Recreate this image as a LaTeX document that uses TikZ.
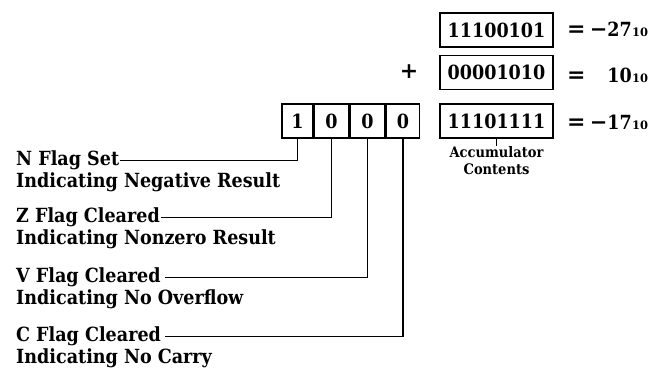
\documentclass[tikz,border=0pt]{standalone}
\usepackage{fontspec}
\setmainfont{DejaVu Serif Condensed}
\newfontfamily\symfont{DejaVu Serif}
\newcommand{\tensub}{\symfont\bfseries\fontsize{11.5}{12}\selectfont 10}
\newcommand{\eqsign}{\symfont\bfseries\fontsize{22}{22}\selectfont =}
\newcommand{\negnum}[1]{{\symfont\bfseries\fontsize{21}{22}\selectfont −}#1}
\newcommand{\plussign}{\symfont\bfseries\fontsize{22}{22}\selectfont +}
\begin{document}
\begin{tikzpicture}[x=1pt,y=-1pt,
  lbl/.style={anchor=base west,inner sep=0pt,font=\bfseries\fontsize{19.5}{21}\selectfont},
  cell/.style={draw,line width=1.5pt,minimum height=34pt,inner sep=0pt,font=\bfseries\fontsize{19.5}{21}\selectfont},
  reg/.style={draw,line width=1.5pt,minimum width=113pt,minimum height=34pt,inner sep=0pt,font=\bfseries\fontsize{19.5}{21}\selectfont},
  eqt/.style={anchor=base west,inner sep=0pt},
  val/.style={anchor=base east,inner sep=0pt,font=\bfseries\fontsize{19.5}{21}\selectfont},
  sub/.style={anchor=base west,inner sep=0pt},
  conn/.style={line width=1.4pt}]
\useasboundingbox (0,0) rectangle (654,371);
% flag cells
\node[cell,minimum width=31pt] (f1) at (297.5,121) {1};
\node[cell,minimum width=34pt,anchor=west] (f2) at (f1.east) {0};
\node[cell,minimum width=35pt,anchor=west] (f3) at (f2.east) {0};
\node[cell,minimum width=33pt,anchor=west] (f4) at (f3.east) {0};
% labels
\node[lbl] (n1) at (16,166) {N Flag Set};
\node[lbl] (n2) at (16,188) {Indicating Negative Result};
\node[lbl] (z1) at (16,223) {Z Flag Cleared};
\node[lbl] (z2) at (16,245) {Indicating Nonzero Result};
\node[lbl] (v1) at (16,283) {V Flag Cleared};
\node[lbl] (v2) at (16,305) {Indicating No Overflow};
\node[lbl] (c1) at (16,342) {C Flag Cleared};
\node[lbl] (c2) at (16,364) {Indicating No Carry};
\draw[conn] (f1.south) |- ([xshift=1pt]n1.east);
\draw[conn] (f2.south) |- ([xshift=1pt]z1.east);
\draw[conn] (f3.south) |- ([xshift=4pt]v1.east);
\draw[conn] (f4.south) |- ([xshift=4pt]c1.east);
% registers
\node[reg] (r1) at (496.5,30) {11100101};
\node[reg] (r2) at (496.5,72.5) {00001010};
\node[reg] (r3) at (496.5,121) {11101111};
\node[inner sep=0pt] (plus) at (409,72) {\plussign};
\node[eqt] (q1) at (567,37) {\eqsign};
\node[eqt] (q2) at (567,83) {\eqsign};
\node[eqt] (q3) at (567,130) {\eqsign};
\node[val] (v1n) at (632,37) {\negnum{27}};
\node[val] (v2n) at (632,83) {10};
\node[val] (v3n) at (632,130) {\negnum{17}};
\node[sub] (s1) at (632,37) {\tensub};
\node[sub] (s2) at (632,83) {\tensub};
\node[sub] (s3) at (632,130) {\tensub};
\node[font=\bfseries\fontsize{14.5}{17.5}\selectfont,align=center,inner sep=0pt,anchor=north] (acc) at (496.5,146) {Accumulator\\Contents};
\draw[conn] (r3.south) -- (acc.north);
\end{tikzpicture}
\end{document}
